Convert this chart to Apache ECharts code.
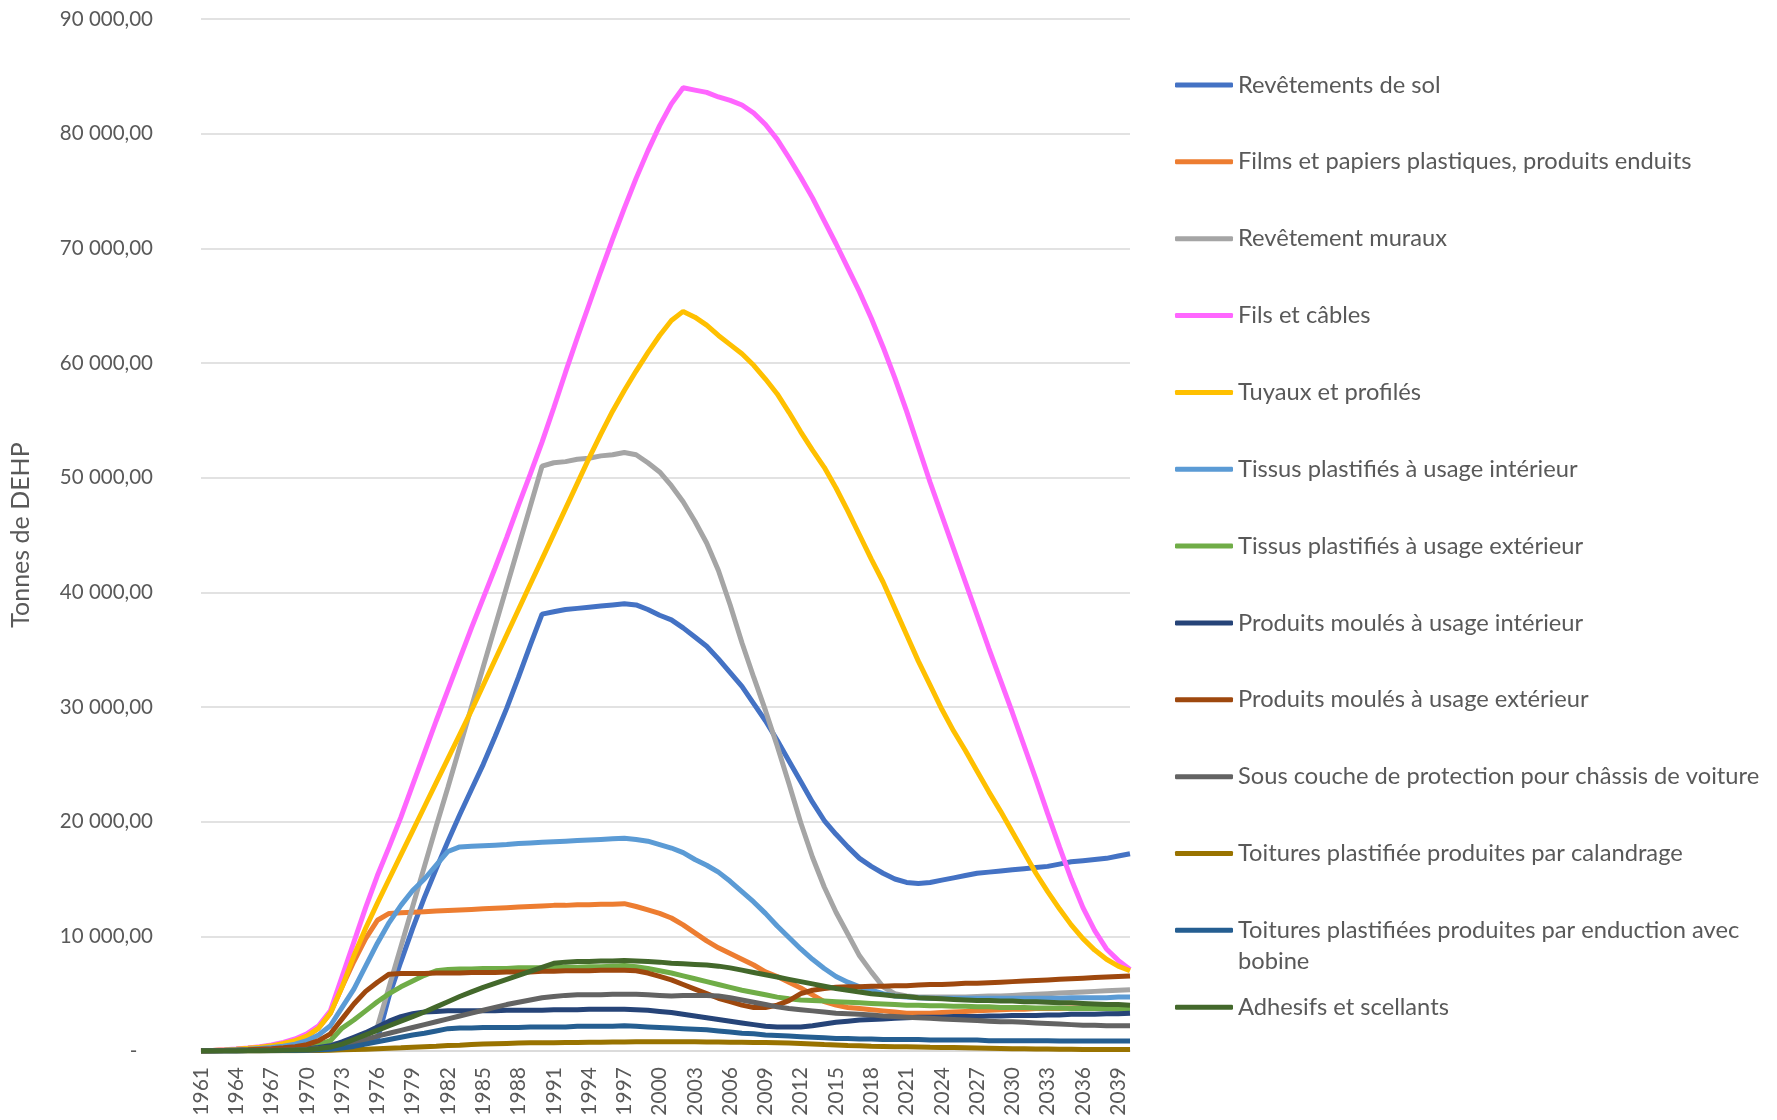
<!DOCTYPE html>
<html>
<head>
    <meta charset="utf-8">
    <title>Tonnes de DEHP</title>
    <script src="https://cdn.jsdelivr.net/npm/echarts@6/dist/echarts.min.js"></script>
</head>
<body style="margin: 0; background: #ffffff;">
    <div id="chart" style="width: 1777px; height: 1120px;"></div>
    <script>
        // Years on the category axis
        var years = [
            '1961','1962','1963','1964','1965','1966','1967','1968','1969','1970',
            '1971','1972','1973','1974','1975','1976','1977','1978','1979','1980',
            '1981','1982','1983','1984','1985','1986','1987','1988','1989','1990',
            '1991','1992','1993','1994','1995','1996','1997','1998','1999','2000',
            '2001','2002','2003','2004','2005','2006','2007','2008','2009','2010',
            '2011','2012','2013','2014','2015','2016','2017','2018','2019','2020',
            '2021','2022','2023','2024','2025','2026','2027','2028','2029','2030',
            '2031','2032','2033','2034','2035','2036','2037','2038','2039','2040'
        ];

        // Tonnes de DEHP, one value per year
        var revetementsSol = [
            0, 10, 20, 30, 50, 70, 100, 130, 170, 220,
            280, 350, 430, 530, 650, 1000, 4800, 7800, 10700, 13400,
            15900, 18300, 20600, 22800, 25000, 27400, 29900, 32600, 35400, 38100,
            38300, 38500, 38600, 38700, 38800, 38900, 39000, 38900, 38500, 38000,
            37600, 36900, 36100, 35300, 34200, 33000, 31800, 30300, 28800, 27100,
            25300, 23500, 21700, 20100, 18900, 17800, 16800, 16100, 15500, 15000,
            14700, 14600, 14700, 14900, 15100, 15300, 15500, 15600, 15700, 15800,
            15900, 16000, 16100, 16300, 16500, 16600, 16700, 16800, 17000, 17200
        ];
        var filmsPapiers = [
            0, 40, 90, 150, 230, 330, 450, 650, 900, 1300,
            2000, 3300, 5600, 7800, 9800, 11400, 12000, 12050, 12100, 12150,
            12200, 12250, 12300, 12350, 12400, 12450, 12500, 12550, 12600, 12650,
            12700, 12700, 12750, 12750, 12800, 12800, 12850, 12600, 12300, 12000,
            11600, 11000, 10300, 9600, 9000, 8500, 8000, 7500, 6900, 6500,
            6000, 5500, 4900, 4300, 4000, 3800, 3700, 3600, 3500, 3400,
            3300, 3300, 3300, 3350, 3400, 3450, 3500, 3550, 3600, 3650,
            3650, 3700, 3700, 3700, 3750, 3750, 3750, 3800, 3800, 3800
        ];
        var revetementMuraux = [
            0, 20, 40, 60, 90, 120, 160, 200, 260, 330,
            420, 540, 700, 900, 1200, 2100, 5600, 9100, 12600, 16100,
            19600, 23000, 26500, 30000, 33500, 37000, 40500, 44000, 47500, 51000,
            51300, 51400, 51600, 51700, 51900, 52000, 52200, 52000, 51300, 50500,
            49300, 47900, 46200, 44300, 41900, 38900, 35600, 32600, 29700, 26600,
            23300, 19900, 16900, 14300, 12100, 10200, 8300, 6900, 5600, 5000,
            4800, 4700, 4700, 4700, 4700, 4700, 4750, 4800, 4800, 4850,
            4900, 4950, 5000, 5050, 5100, 5150, 5200, 5250, 5300, 5350
        ];
        var filsCables = [
            0, 50, 100, 180, 270, 380, 520, 750, 1050, 1500,
            2200, 3500, 6500, 9500, 12500, 15300, 17800, 20400, 23200, 26000,
            28800, 31500, 34200, 36900, 39500, 42100, 44800, 47600, 50300, 53100,
            56100, 59200, 62200, 65100, 68000, 70800, 73500, 76100, 78500, 80700,
            82600, 84000, 83800, 83600, 83200, 82900, 82500, 81800, 80800, 79500,
            77900, 76200, 74400, 72400, 70400, 68300, 66200, 63900, 61400, 58700,
            55800, 52700, 49600, 46700, 43800, 40900, 38000, 35100, 32300, 29500,
            26600, 23700, 20700, 17800, 15000, 12500, 10500, 8900, 7900, 7100
        ];
        var tuyauxProfiles = [
            0, 40, 90, 150, 230, 330, 450, 650, 900, 1300,
            2000, 3300, 5600, 8300, 10700, 12900, 15000, 17100, 19200, 21300,
            23400, 25500, 27600, 29700, 31900, 34100, 36300, 38500, 40700, 42900,
            45100, 47300, 49500, 51700, 53800, 55800, 57600, 59300, 60900, 62400,
            63700, 64500, 64000, 63300, 62400, 61600, 60800, 59800, 58600, 57300,
            55700, 54000, 52400, 50900, 49100, 47100, 45000, 42900, 40900, 38600,
            36300, 34000, 31900, 29800, 27900, 26200, 24400, 22600, 20900, 19100,
            17300, 15500, 13900, 12400, 11000, 9800, 8800, 8000, 7400, 7000
        ];
        var tissusInterieur = [
            0, 30, 60, 100, 150, 220, 300, 420, 600, 900,
            1400, 2200, 3800, 5400, 7400, 9400, 11200, 12700, 14000, 15000,
            16200, 17400, 17800, 17850, 17900, 17950, 18000, 18100, 18150, 18200,
            18250, 18300, 18350, 18400, 18450, 18500, 18550, 18450, 18300, 18000,
            17700, 17300, 16700, 16200, 15600, 14800, 13900, 13000, 12000, 10900,
            9900, 8900, 8000, 7200, 6500, 6000, 5600, 5300, 5000, 4800,
            4700, 4650, 4600, 4600, 4600, 4600, 4600, 4600, 4600, 4600,
            4600, 4600, 4600, 4600, 4650, 4650, 4650, 4650, 4700, 4700
        ];
        var tissusExterieur = [
            0, 20, 40, 60, 90, 120, 160, 210, 270, 350,
            550, 900, 2000, 2700, 3500, 4300, 5000, 5600, 6100, 6600,
            7000, 7100, 7150, 7150, 7200, 7200, 7200, 7250, 7250, 7250,
            7300, 7300, 7300, 7350, 7350, 7400, 7450, 7350, 7200, 7000,
            6800, 6550, 6300, 6050, 5800, 5550, 5300, 5100, 4900, 4700,
            4550, 4450, 4400, 4350, 4300, 4250, 4200, 4150, 4100, 4050,
            4000, 4000, 3950, 3950, 3900, 3900, 3850, 3850, 3800, 3800,
            3800, 3750, 3750, 3750, 3700, 3700, 3700, 3700, 3650, 3650
        ];
        var moulesInterieur = [
            0, 10, 20, 30, 40, 60, 80, 110, 150, 200,
            300, 450, 800, 1200, 1600, 2100, 2600, 3000, 3250, 3400,
            3450, 3500, 3500, 3500, 3500, 3500, 3550, 3550, 3550, 3550,
            3600, 3600, 3600, 3650, 3650, 3650, 3650, 3600, 3550, 3450,
            3350, 3200, 3050, 2900, 2750, 2600, 2450, 2300, 2150, 2100,
            2100, 2100, 2200, 2350, 2500, 2600, 2700, 2750, 2800, 2850,
            2900, 2950, 2950, 2950, 3000, 3000, 3000, 3050, 3050, 3100,
            3100, 3100, 3150, 3150, 3200, 3200, 3200, 3250, 3250, 3300
        ];
        var moulesExterieur = [
            0, 20, 40, 70, 100, 150, 200, 280, 380, 550,
            900, 1500, 2800, 4100, 5200, 6000, 6700, 6750, 6750, 6750,
            6800, 6800, 6800, 6850, 6850, 6850, 6900, 6900, 6900, 6950,
            6950, 7000, 7000, 7000, 7050, 7050, 7050, 7000, 6800, 6500,
            6200, 5800, 5400, 5000, 4600, 4300, 4000, 3800, 3800, 4000,
            4400, 5000, 5300, 5450, 5550, 5600, 5600, 5650, 5650, 5700,
            5700, 5750, 5800, 5800, 5850, 5900, 5900, 5950, 6000, 6050,
            6100, 6150, 6200, 6250, 6300, 6350, 6400, 6450, 6500, 6550
        ];
        var sousCouche = [
            0, 10, 20, 30, 40, 50, 70, 90, 120, 160,
            220, 300, 450, 700, 1000, 1300, 1550, 1800, 2050, 2300,
            2550, 2800, 3050, 3300, 3550, 3800, 4050, 4250, 4450, 4650,
            4750, 4850, 4900, 4900, 4900, 4950, 4950, 4950, 4900, 4850,
            4800, 4850, 4850, 4850, 4800, 4650, 4450, 4250, 4050, 3850,
            3700, 3600, 3500, 3400, 3300, 3250, 3200, 3150, 3050, 3000,
            2950, 2900, 2850, 2800, 2750, 2700, 2650, 2600, 2550, 2550,
            2500, 2450, 2400, 2350, 2300, 2250, 2250, 2200, 2200, 2200
        ];
        var toituresCalandrage = [
            0, 0, 0, 10, 10, 10, 20, 20, 30, 40,
            50, 70, 100, 130, 160, 200, 240, 280, 330, 380,
            420, 470, 510, 560, 600, 630, 660, 690, 710, 720,
            730, 740, 750, 760, 770, 780, 790, 800, 800, 810,
            810, 800, 800, 790, 780, 770, 760, 750, 740, 720,
            690, 650, 610, 560, 520, 480, 450, 420, 400, 380,
            360, 340, 320, 310, 300, 280, 260, 240, 220, 200,
            190, 180, 170, 160, 150, 140, 130, 130, 120, 120
        ];
        var toituresEnduction = [
            0, 0, 10, 10, 20, 20, 30, 40, 50, 70,
            100, 150, 250, 400, 600, 800, 1000, 1200, 1400, 1550,
            1750, 1950, 2000, 2000, 2050, 2050, 2050, 2050, 2100, 2100,
            2100, 2100, 2150, 2150, 2150, 2150, 2200, 2150, 2100, 2050,
            2000, 1950, 1900, 1850, 1750, 1650, 1550, 1500, 1400, 1350,
            1300, 1250, 1200, 1150, 1100, 1100, 1050, 1050, 1000, 1000,
            1000, 1000, 950, 950, 950, 950, 950, 900, 900, 900,
            900, 900, 900, 880, 880, 880, 870, 870, 870, 870
        ];
        var adhesifs = [
            0, 0, 10, 10, 20, 30, 40, 60, 80, 110,
            200, 350, 600, 1000, 1400, 1800, 2200, 2600, 3000, 3400,
            3850, 4300, 4750, 5150, 5550, 5900, 6250, 6600, 6950, 7300,
            7650, 7750, 7800, 7800, 7850, 7850, 7900, 7850, 7800, 7750,
            7650, 7600, 7550, 7500, 7400, 7250, 7050, 6850, 6650, 6450,
            6250, 6050, 5850, 5650, 5450, 5300, 5150, 5000, 4900, 4800,
            4750, 4650, 4600, 4550, 4500, 4450, 4400, 4400, 4350, 4350,
            4300, 4300, 4250, 4200, 4200, 4150, 4100, 4050, 4050, 4000
        ];

        var names = [
            'Revêtements de sol',
            'Films et papiers plastiques, produits enduits',
            'Revêtement muraux',
            'Fils et câbles',
            'Tuyaux et profilés',
            'Tissus plastifiés à usage intérieur',
            'Tissus plastifiés à usage extérieur',
            'Produits moulés à usage intérieur',
            'Produits moulés à usage extérieur',
            'Sous couche de protection pour châssis de voiture',
            'Toitures plastifiée produites par calandrage',
            'Toitures plastifiées produites par enduction avec bobine',
            'Adhesifs et scellants'
        ];
        var values = [
            revetementsSol, filmsPapiers, revetementMuraux, filsCables, tuyauxProfiles,
            tissusInterieur, tissusExterieur, moulesInterieur, moulesExterieur,
            sousCouche, toituresCalandrage, toituresEnduction, adhesifs
        ];
        var colors = [
            '#4472C4', '#ED7D31', '#A5A5A5', '#FF66FF', '#FFC000',
            '#5B9BD5', '#70AD47', '#264478', '#9E480E', '#636363',
            '#997300', '#255E91', '#43682B'
        ];

        var textColor = '#595959';
        var font = 'Lato';
        var lineH = 31;

        // one legend block per entry, stacked like the Excel legend
        // the wrapped entry gets an empty first line so its first text line sits on the icon
        var legends = names.map(function (name, i) {
            var wrapped = name.indexOf('avec bobine') >= 0;
            var center = 85 + i * 76.85;
            return {
                data: [name],
                orient: 'vertical',
                left: 1175,
                top: center - (wrapped ? lineH * 1.5 : lineH / 2),
                itemWidth: 58,
                itemHeight: 5,
                icon: 'roundRect',
                padding: 0,
                formatter: function (n) {
                    if (n.indexOf('avec bobine') >= 0) {
                        return ' \n' + n.replace(' avec bobine', ' avec\nbobine');
                    }
                    return n;
                },
                textStyle: {
                    color: textColor,
                    fontFamily: font,
                    fontSize: 23.7,
                    lineHeight: lineH
                }
            };
        });

        var chart = echarts.init(document.getElementById('chart'));
        var option = {
            backgroundColor: '#ffffff',
            animation: false,
            legend: legends,
            grid: {
                left: 199,
                right: 647,
                top: 19,
                bottom: 69,
                containLabel: false
            },
            xAxis: {
                type: 'category',
                data: years,
                boundaryGap: false,
                axisLine: { show: true, lineStyle: { color: '#d9d9d9', width: 1.5 } },
                axisTick: { show: false },
                axisLabel: {
                    interval: function (index) { return index % 3 === 0; },
                    rotate: 90,
                    margin: 16,
                    color: textColor,
                    fontFamily: font,
                    fontSize: 21
                },
                splitLine: { show: false }
            },
            yAxis: {
                type: 'value',
                min: 0,
                max: 90000,
                interval: 10000,
                name: 'Tonnes de DEHP',
                nameLocation: 'middle',
                nameGap: 168,
                nameRotate: 90,
                nameTextStyle: { color: textColor, fontFamily: font, fontSize: 25 },
                axisLine: { show: false },
                axisTick: { show: false },
                axisLabel: {
                    margin: 48,
                    color: textColor,
                    fontFamily: font,
                    fontSize: 20.5,
                    formatter: function (v) {
                        if (v === 0) return '-   ';
                        return (v / 1000) + ' 000,00';
                    }
                },
                splitLine: { lineStyle: { color: '#d9d9d9', width: 1.5 } }
            },
            series: names.map(function (name, i) {
                return {
                    name: name,
                    type: 'line',
                    data: values[i],
                    symbol: 'none',
                    smooth: false,
                    color: colors[i],
                    itemStyle: { color: colors[i] },
                    lineStyle: { color: colors[i], width: 5 }
                };
            })
        };
        chart.setOption(option);
    </script>
</body>
</html>
